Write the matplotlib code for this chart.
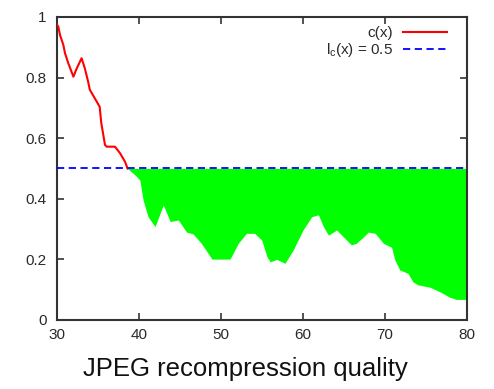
import numpy as np
import matplotlib
matplotlib.use('Agg')
import matplotlib.pyplot as plt

plt.rcParams['font.family'] = ['Liberation Sans', 'DejaVu Sans']
plt.rcParams['mathtext.default'] = 'regular'

# c(x)
quality = [30.0, 30.16, 30.37, 30.77, 30.98, 31.38, 32.0, 32.4, 33.0, 33.4, 33.8,
           34.0, 34.6, 35.2, 35.4, 35.85, 36.06, 37.07, 37.7, 38.3, 38.6,
           39.5, 40.1, 40.5, 41.1, 41.95, 42.96, 43.8, 44.8, 45.8, 46.6, 47.6,
           48.9, 51.1, 52.1, 53.1, 54.1, 54.96, 55.6, 56.0, 56.8, 57.8, 58.8,
           60.0, 61.06, 61.87, 62.5, 63.1, 64.1, 64.9, 65.9, 66.5, 67.4, 67.96,
           68.8, 69.8, 70.8, 71.2, 71.8, 72.8, 73.4, 74.0, 75.5, 76.7, 77.9,
           78.7, 80.0]
cx = [0.975, 0.968, 0.94, 0.908, 0.88, 0.847, 0.803, 0.83, 0.864, 0.83, 0.786,
      0.76, 0.732, 0.704, 0.65, 0.578, 0.572, 0.572, 0.55, 0.522, 0.5,
      0.479, 0.462, 0.396, 0.341, 0.308, 0.38, 0.325, 0.33, 0.29, 0.284, 0.253,
      0.201, 0.201, 0.253, 0.286, 0.286, 0.264, 0.209, 0.192, 0.2, 0.187, 0.231,
      0.297, 0.341, 0.347, 0.308, 0.28, 0.297, 0.275, 0.248, 0.253, 0.275, 0.29,
      0.286, 0.253, 0.24, 0.198, 0.165, 0.154, 0.126, 0.116, 0.108, 0.093, 0.075,
      0.068, 0.068]
threshold = 0.5

x = np.array(quality)
c = np.array(cx)

fig = plt.figure(figsize=(4.94, 3.89), dpi=100)
ax = fig.add_axes([0.1154, 0.1774, 0.83, 0.7789])

ax.fill_between(x, c, threshold, where=c <= threshold, color='#00ff00',
                linewidth=0, zorder=2)
ax.plot(x, np.where(c >= threshold, c, np.nan), color='#ff0000', lw=1.5,
        label='c(x)', zorder=3)
ax.axhline(threshold, color='#0000ff', lw=1.3, ls=(0, (4, 2.5)),
           label='l$_c$(x) = 0.5', zorder=4)

ax.set_xlim(30, 80)
ax.set_ylim(0, 1)
ax.set_xticks([30, 40, 50, 60, 70, 80])
ax.set_yticks([0, 0.2, 0.4, 0.6, 0.8, 1])
ax.set_yticklabels(['0', '0.2', '0.4', '0.6', '0.8', '1'])
ax.tick_params(direction='in', top=True, right=True, length=5, width=1.2,
               labelsize=11, labelcolor='#2a2a2a', color='#333333')
ax.tick_params(axis='x', pad=6)
ax.tick_params(axis='y', pad=7.5)
for s in ax.spines.values():
    s.set_linewidth(1.5)
    s.set_color('#333333')

ax.set_xlabel('JPEG recompression quality', fontsize=18.5, color='#111111',
              va='center')
ax.xaxis.set_label_coords(0.459, -0.162)

leg = ax.legend(loc='upper right', bbox_to_anchor=(0.951, 0.97),
                markerfirst=False, frameon=False, fontsize=11,
                handlelength=2.9, handletextpad=0.6, labelspacing=0.05,
                borderpad=0, borderaxespad=0)
for t in leg.get_texts():
    t.set_color('#2a2a2a')

fig.savefig('out.png', dpi=100)
